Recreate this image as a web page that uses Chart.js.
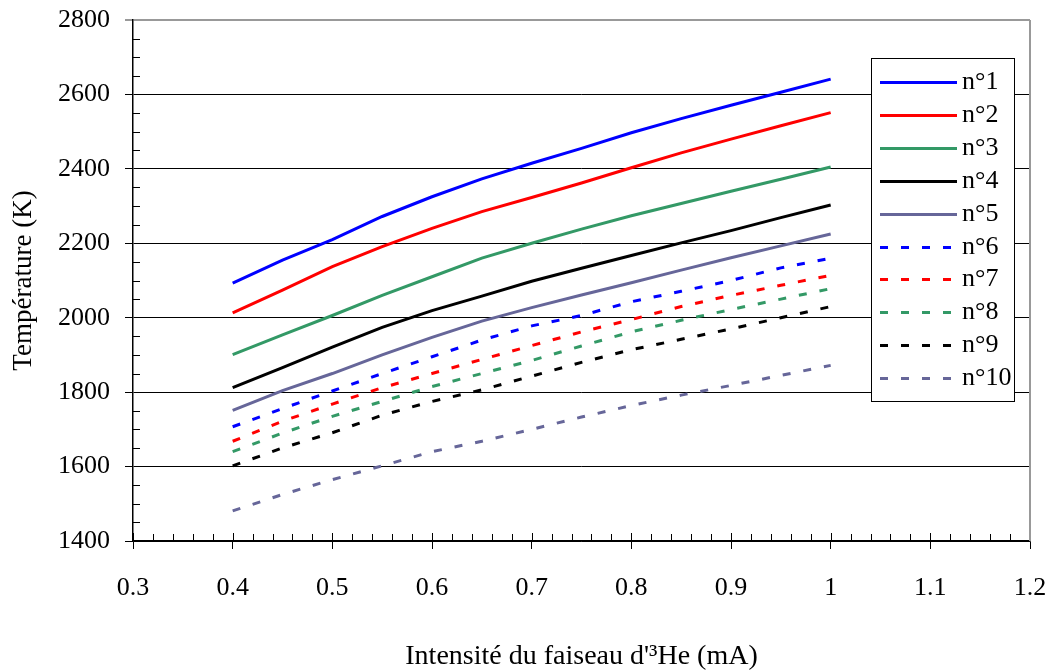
<!DOCTYPE html>
<html>
<head>
<meta charset="utf-8">
<script src="https://cdn.jsdelivr.net/npm/chart.js"></script>
<style>
  html,body{margin:0;padding:0;background:#fff}
</style>
</head>
<body>
<canvas id="grafik" width="1052" height="671"></canvas>
<script>
// ================= DATA =================
const intensite = [0.4, 0.45, 0.5, 0.55, 0.6, 0.65, 0.7, 0.75, 0.8, 0.85, 0.9, 0.95, 1.0];

const n1  = [2093, 2155, 2210, 2272, 2325, 2373, 2415, 2455, 2497, 2535, 2571, 2606, 2641];
const n2  = [2013, 2074, 2137, 2191, 2240, 2285, 2323, 2362, 2403, 2443, 2480, 2516, 2551];
const n3  = [1901, 1954, 2006, 2060, 2110, 2160, 2200, 2238, 2274, 2307, 2340, 2372, 2405];
const n4  = [1812, 1866, 1921, 1974, 2019, 2058, 2098, 2133, 2167, 2201, 2234, 2269, 2303];
const n5  = [1751, 1804, 1850, 1900, 1947, 1991, 2027, 2061, 2094, 2128, 2161, 2193, 2225];
const n6  = [1707, 1756, 1803, 1850, 1895, 1940, 1978, 2006, 2043, 2071, 2100, 2134, 2160];
const n7  = [1668, 1722, 1768, 1812, 1850, 1888, 1925, 1962, 1995, 2030, 2060, 2087, 2114];
const n8  = [1640, 1690, 1735, 1775, 1815, 1850, 1885, 1924, 1962, 1993, 2022, 2050, 2078];
const n9  = [1602, 1650, 1691, 1738, 1775, 1806, 1843, 1880, 1914, 1942, 1970, 2000, 2030];
const n10 = [1481, 1525, 1565, 1602, 1640, 1668, 1700, 1733, 1764, 1792, 1818, 1845, 1872];

const labelSerie = ["n°1","n°2","n°3","n°4","n°5","n°6","n°7","n°8","n°9","n°10"];
const nilaiSerie = [n1, n2, n3, n4, n5, n6, n7, n8, n9, n10];
const warnaSerie = ["#0000ff","#ff0000","#339966","#000000","#666699",
                    "#0000ff","#ff0000","#339966","#000000","#666699"];

const xMin = 0.3, xMax = 1.2, xStep = 0.1, xMinor = 0.02;
const yMin = 1400, yMax = 2800, yStep = 200, yMinor = 50;

const FONT = "'Liberation Serif', 'Times New Roman', serif";
const DASH = [8, 13];

// ================= DATASETS =================
const datasets = nilaiSerie.map((arr, i) => ({
  label: labelSerie[i],
  data: arr.map((v, k) => ({x: intensite[k], y: v})),
  borderColor: warnaSerie[i],
  backgroundColor: warnaSerie[i],
  borderWidth: 3,
  borderDash: i >= 5 ? DASH : [],
  borderCapStyle: "butt",
  pointRadius: 0,
  tension: 0,
  fill: false
}));

// ================= PLUGIN: ticks kecil + bingkai =================
const tickKecil = {
  id: "tickKecil",
  afterDraw(chart) {
    const c = chart.ctx;
    const a = chart.chartArea;
    const sx = chart.scales.x, sy = chart.scales.y;
    c.save();
    c.strokeStyle = "#000";
    c.lineWidth = 1;
    c.beginPath();
    const nx = Math.round((xMax - xMin) / xMinor);
    for (let i = 0; i <= nx; i++) {
      const px = Math.round(sx.getPixelForValue(xMin + i * xMinor)) + 0.5;
      const len = (i % 5 === 0) ? 8 : 7;
      c.moveTo(px, a.bottom);
      c.lineTo(px, a.bottom - len);
    }
    for (let v = yMin + yMinor; v < yMax; v += yMinor) {
      if (v % yStep === 0) continue;
      const py = Math.round(sy.getPixelForValue(v)) + 0.5;
      c.moveTo(a.left, py);
      c.lineTo(a.left + 7, py);
    }
    c.stroke();
    // bingkai kanan abu-abu
    c.strokeStyle = "#999";
    c.lineWidth = 2;
    c.beginPath();
    c.moveTo(a.right, a.top);
    c.lineTo(a.right, a.bottom);
    c.stroke();
    c.restore();
  }
};

// ================= PLUGIN: legenda kotak =================
const legendaKotak = {
  id: "legendaKotak",
  afterDraw(chart) {
    const c = chart.ctx;
    const a = chart.chartArea;
    const x0 = a.right - 159, y0 = a.top + 38;
    const w = 143, h = 343, baris = 32.9;
    c.save();
    c.fillStyle = "#fff";
    c.fillRect(x0, y0, w, h);
    c.strokeStyle = "#000";
    c.lineWidth = 1;
    c.strokeRect(x0 + 0.5, y0 + 0.5, w, h);
    c.font = "26px " + FONT;
    c.textBaseline = "middle";
    chart.data.datasets.forEach((ds, i) => {
      const yy = Math.round(y0 + 24 + i * baris) + 0.5;
      c.strokeStyle = ds.borderColor;
      c.lineWidth = 3;
      c.setLineDash(ds.borderDash);
      c.beginPath();
      c.moveTo(x0 + 9, yy);
      c.lineTo(x0 + 86, yy);
      c.stroke();
      c.setLineDash([]);
      c.fillStyle = "#000";
      c.fillText(ds.label, x0 + 91, yy);
    });
    c.restore();
  }
};

// ================= GRAFIK =================
new Chart(document.getElementById("grafik"), {
  type: "line",
  data: {datasets},
  options: {
    responsive: false,
    devicePixelRatio: 1,
    animation: false,
    layout: {padding: {top: 20, right: 22, left: 0, bottom: 0}},
    plugins: {legend: {display: false}, tooltip: {enabled: false}},
    scales: {
      x: {
        type: "linear",
        min: xMin, max: xMax,
        afterFit: s => { s.height = 130; s.paddingLeft = 0; s.paddingRight = 0; },
        ticks: {
          stepSize: xStep,
          color: "#000",
          padding: 24,
          maxRotation: 0,
          font: {family: FONT, size: 26},
          callback: v => String(+v.toFixed(1))
        },
        grid: {drawOnChartArea: false, color: "#000", tickLength: 8, lineWidth: 1},
        border: {color: "#000", width: 1.5},
        title: {
          display: true,
          text: "Intensité du faiseau d'³He (mA)",
          color: "#000",
          font: {family: FONT, size: 28, lineHeight: 1.0},
          padding: {top: 0, bottom: 0}
        }
      },
      y: {
        min: yMin, max: yMax,
        afterFit: s => { s.width = 133; s.paddingTop = 0; s.paddingBottom = 0; },
        ticks: {
          stepSize: yStep,
          color: "#000",
          padding: 15,
          font: {family: FONT, size: 26},
          callback: v => String(v)
        },
        grid: {
          color: ctx => (ctx.tick && ctx.tick.value === yMax) ? "#999" : "#000",
          lineWidth: ctx => (ctx.tick && ctx.tick.value === yMax) ? 2 : 1,
          tickLength: 8
        },
        border: {color: "#000", width: 1.5},
        title: {
          display: true,
          text: "Température (K)",
          color: "#000",
          font: {family: FONT, size: 27},
          padding: {top: 8, bottom: 0}
        }
      }
    }
  },
  plugins: [tickKecil, legendaKotak]
});
</script>
</body>
</html>
